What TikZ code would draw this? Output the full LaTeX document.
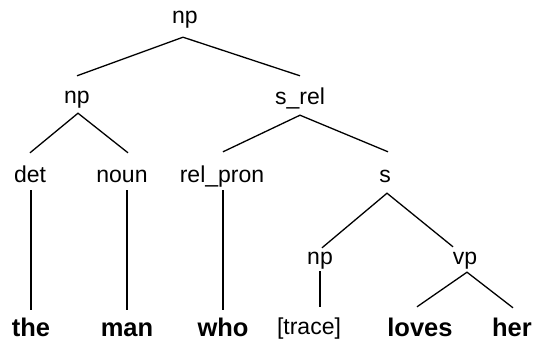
\documentclass[tikz,border=0pt]{standalone}
\usepackage{fontspec}
\setmainfont{Liberation Sans}
\begin{document}
\begin{tikzpicture}[x=1pt,y=-1pt,
  lab/.style={anchor=base,inner sep=0pt,text height=17pt,text depth=5pt,font=\fontsize{23}{26}\selectfont},
  word/.style={lab,font=\fontsize{25.5}{28}\selectfont\bfseries},
  edge/.style={line width=1.3pt,black}]
\useasboundingbox (0,0) rectangle (535,341);
% nodes
\node[lab] (np1) at (185,23) {np};
\node[lab] (np2) at (77,103) {np};
\node[lab] (srel) at (300,104) {s\_rel};
\node[lab] (det) at (30,182) {det};
\node[lab] (noun) at (122,182) {noun};
\node[lab] (relpron) at (222,182) {rel\_pron};
\node[lab] (s) at (385,182) {s};
\node[lab] (np4) at (320,264) {np};
\node[lab] (vp) at (465,264) {vp};
\node[word] (the) at (31,336) {the};
\node[word] (man) at (127,336) {man};
\node[word] (who) at (223,336) {who};
\node[lab] (trace) at (309,334) {[trace]};
\node[word] (loves) at (420,336) {loves};
\node[word] (her) at (512,336) {her};
% edges
\draw[edge] ([yshift=10pt]np2.north) -- ([xshift=-2pt,yshift=-9pt]np1.south) -- ([yshift=11pt]srel.north);
\draw[edge] ([yshift=12pt]det.north) -- ([xshift=1pt,yshift=-5pt]np2.south) -- ([xshift=6pt,yshift=12pt]noun.north);
\draw[edge] ([xshift=1pt,yshift=13pt]relpron.north) -- ([yshift=-6pt]srel.south) -- ([xshift=3pt,yshift=13pt]s.north);
\draw[edge] ([xshift=1pt,yshift=-3pt]det.south) -- ([yshift=9pt]the.north);
\draw[edge] ([xshift=5pt,yshift=-3pt]noun.south) -- ([yshift=9pt]man.north);
\draw[edge] ([xshift=1pt,yshift=-3pt]relpron.south) -- ([yshift=9pt]who.north);
\draw[edge] ([xshift=2pt,yshift=-1pt]np4.north) -- ([xshift=2pt,yshift=-6pt]s.south) -- ([xshift=-12pt]vp.north);
\draw[edge] ([yshift=-2pt]np4.south) -- ([xshift=11pt,yshift=10pt]trace.north);
\draw[edge] ([xshift=-3pt,yshift=12pt]loves.north) -- ([xshift=2pt,yshift=-3pt]vp.south) -- ([xshift=1pt,yshift=11pt]her.north);
\end{tikzpicture}
\end{document}
